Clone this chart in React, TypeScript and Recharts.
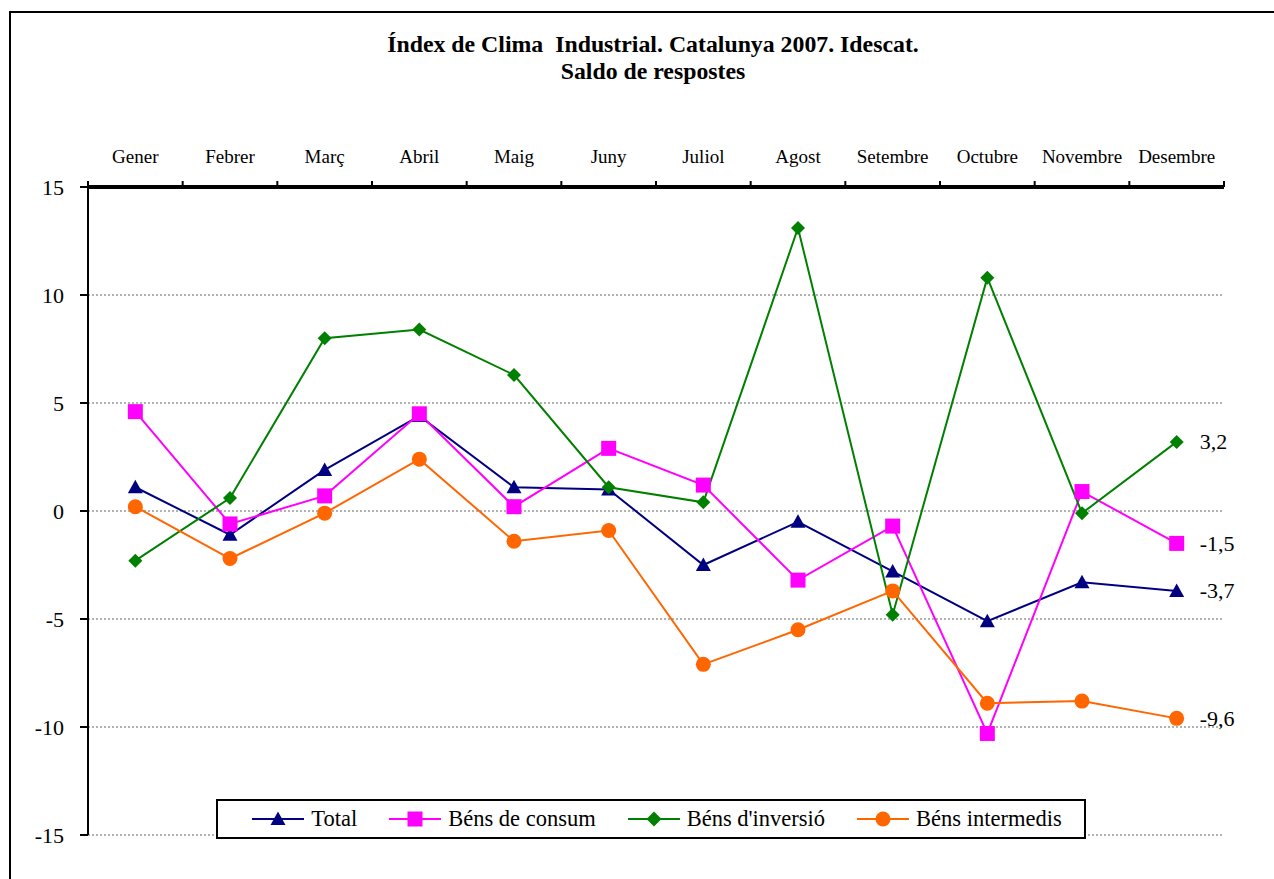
import React from "react"
import {
  LineChart,
  Line,
  XAxis,
  YAxis,
  CartesianGrid,
  Legend,
  LabelList,
} from "recharts"

const months = ["Gener", "Febrer", "Març", "Abril", "Maig", "Juny", "Juliol", "Agost", "Setembre", "Octubre", "Novembre", "Desembre"]
const total = [1.1, -1.1, 1.9, 4.4, 1.1, 1.0, -2.5, -0.5, -2.8, -5.1, -3.3, -3.7]
const consum = [4.6, -0.6, 0.7, 4.5, 0.2, 2.9, 1.2, -3.2, -0.7, -10.3, 0.9, -1.5]
const inversio = [-2.3, 0.6, 8.0, 8.4, 6.3, 1.1, 0.4, 13.1, -4.8, 10.8, -0.1, 3.2]
const intermedis = [0.2, -2.2, -0.1, 2.4, -1.4, -0.9, -7.1, -5.5, -3.7, -8.9, -8.8, -9.6]
const yTicks = [-15, -10, -5, 0, 5, 10, 15]

const data = months.map((m, i) => ({
  month: m,
  total: total[i],
  consum: consum[i],
  inversio: inversio[i],
  intermedis: intermedis[i],
}))

const FONT = "Liberation Serif, Times New Roman, serif"
const NAVY = "#000080"
const MAGENTA = "#FF00FF"
const GREEN = "#008000"
const ORANGE = "#FF6600"

const BAND = (1224 - 88) / 12

// marker shapes
const Triangle = ({ cx, cy, color = NAVY, s = 7.5 }: any) => (
  <path d={`M${cx},${cy - s} L${cx + s},${cy + s * 0.8} L${cx - s},${cy + s * 0.8} Z`} fill={color} />
)
const Square = ({ cx, cy, color = MAGENTA, s = 7.5 }: any) => (
  <rect x={cx - s} y={cy - s} width={s * 2} height={s * 2} fill={color} />
)
const Diamond = ({ cx, cy, color = GREEN, s = 7.5 }: any) => (
  <path d={`M${cx},${cy - s} L${cx + s},${cy} L${cx},${cy + s} L${cx - s},${cy} Z`} fill={color} />
)
const Circle = ({ cx, cy, color = ORANGE, s = 7.5 }: any) => (
  <circle cx={cx} cy={cy} r={s} fill={color} />
)

const MonthTick = (props: any) => {
  const { x, y, payload, index } = props
  const axisY = y + 24
  return (
    <g>
      <text x={x} y={y} textAnchor="middle" fontFamily={FONT} fontSize={19} fill="#000">
        {payload.value}
      </text>
      <line x1={x - BAND / 2} x2={x - BAND / 2} y1={axisY - 6} y2={axisY} stroke="#000" strokeWidth={2} />
      {index === months.length - 1 && (
        <line x1={x + BAND / 2} x2={x + BAND / 2} y1={axisY - 6} y2={axisY} stroke="#000" strokeWidth={2} />
      )}
    </g>
  )
}

const EndLabel = (props: any) => {
  const { x, y, index, value } = props
  if (index !== months.length - 1) return null
  return (
    <text x={x + 23} y={y} dominantBaseline="central" fontFamily={FONT} fontSize={22} fill="#000">
      {String(value).replace(".", ",")}
    </text>
  )
}

const legendItems = [
  { name: "Total", color: NAVY, Marker: Triangle },
  { name: "Béns de consum", color: MAGENTA, Marker: Square },
  { name: "Béns d'inversió", color: GREEN, Marker: Diamond },
  { name: "Béns intermedis", color: ORANGE, Marker: Circle },
]

const LegendBox = () => (
  <div
    style={{
      boxSizing: "border-box",
      width: 870,
      height: 40,
      border: "2px solid #000",
      background: "#fff",
      display: "flex",
      alignItems: "center",
      justifyContent: "center",
      paddingLeft: 12,
      gap: 32,
      fontFamily: FONT,
      fontSize: 22.5,
      color: "#000",
    }}
  >
    {legendItems.map(({ name, color, Marker }) => (
      <div key={name} style={{ display: "flex", alignItems: "center", gap: 7 }}>
        <svg width={52} height={20}>
          <line x1={0} x2={52} y1={10} y2={10} stroke={color} strokeWidth={2} />
          <Marker cx={26} cy={10} color={color} s={7.5} />
        </svg>
        <span>{name}</span>
      </div>
    ))}
  </div>
)

export default function App() {
  return (
    <div style={{ position: "fixed", left: 0, top: 0, width: 1274, height: 879, overflow: "hidden", background: "#fff" }}>
      <div
        style={{
          position: "absolute",
          left: 9,
          top: 11,
          width: 1300,
          height: 900,
          border: "2px solid #000",
        }}
      />
      <div
        style={{
          position: "absolute",
          left: 0,
          top: 31,
          width: 1306,
          textAlign: "center",
          fontFamily: FONT,
          fontWeight: "bold",
          fontSize: 23.8,
          lineHeight: "27px",
          color: "#000",
        }}
      >
        <div>Índex de Clima&nbsp; Industrial. Catalunya 2007. Idescat.</div>
        <div>Saldo de respostes</div>
      </div>
      <div style={{ position: "absolute", left: 0, top: 0 }}>
        <LineChart width={1274} height={879} data={data} margin={{ top: 147, left: 28, right: 50, bottom: 44 }}>
          <CartesianGrid vertical={false} stroke="#999" strokeDasharray="2 2" strokeWidth={1.5} />
          <XAxis
            dataKey="month"
            orientation="top"
            scale="band"
            height={40}
            interval={0}
            tickLine={false}
            tickSize={0}
            tickMargin={24}
            axisLine={{ stroke: "#000", strokeWidth: 4 }}
            tick={<MonthTick />}
          />
          <YAxis
            domain={[-15, 15]}
            ticks={yTicks}
            width={60}
            interval={0}
            allowDataOverflow
            tickSize={8}
            tickMargin={16}
            axisLine={{ stroke: "#000", strokeWidth: 2 }}
            tickLine={{ stroke: "#000", strokeWidth: 2 }}
            tick={{ fontFamily: FONT, fontSize: 22, fill: "#000" }}
          />
          <Legend
            layout="vertical"
            align="center"
            verticalAlign="middle"
            wrapperStyle={{ position: "absolute", left: 216, top: 799, width: 870 }}
            content={<LegendBox />}
          />
          <Line
            dataKey="total"
            name="Total"
            stroke={NAVY}
            strokeWidth={2}
            isAnimationActive={false}
            dot={(p: any) => <Triangle key={`t-${p.index}`} cx={p.cx} cy={p.cy} />}
          >
            <LabelList dataKey="total" content={EndLabel} />
          </Line>
          <Line
            dataKey="consum"
            name="Béns de consum"
            stroke={MAGENTA}
            strokeWidth={2}
            isAnimationActive={false}
            dot={(p: any) => <Square key={`s-${p.index}`} cx={p.cx} cy={p.cy} />}
          >
            <LabelList dataKey="consum" content={EndLabel} />
          </Line>
          <Line
            dataKey="inversio"
            name="Béns d'inversió"
            stroke={GREEN}
            strokeWidth={2}
            isAnimationActive={false}
            dot={(p: any) => <Diamond key={`d-${p.index}`} cx={p.cx} cy={p.cy} s={7} />}
          >
            <LabelList dataKey="inversio" content={EndLabel} />
          </Line>
          <Line
            dataKey="intermedis"
            name="Béns intermedis"
            stroke={ORANGE}
            strokeWidth={2}
            isAnimationActive={false}
            dot={(p: any) => <Circle key={`c-${p.index}`} cx={p.cx} cy={p.cy} />}
          >
            <LabelList dataKey="intermedis" content={EndLabel} />
          </Line>
        </LineChart>
      </div>
    </div>
  )
}
